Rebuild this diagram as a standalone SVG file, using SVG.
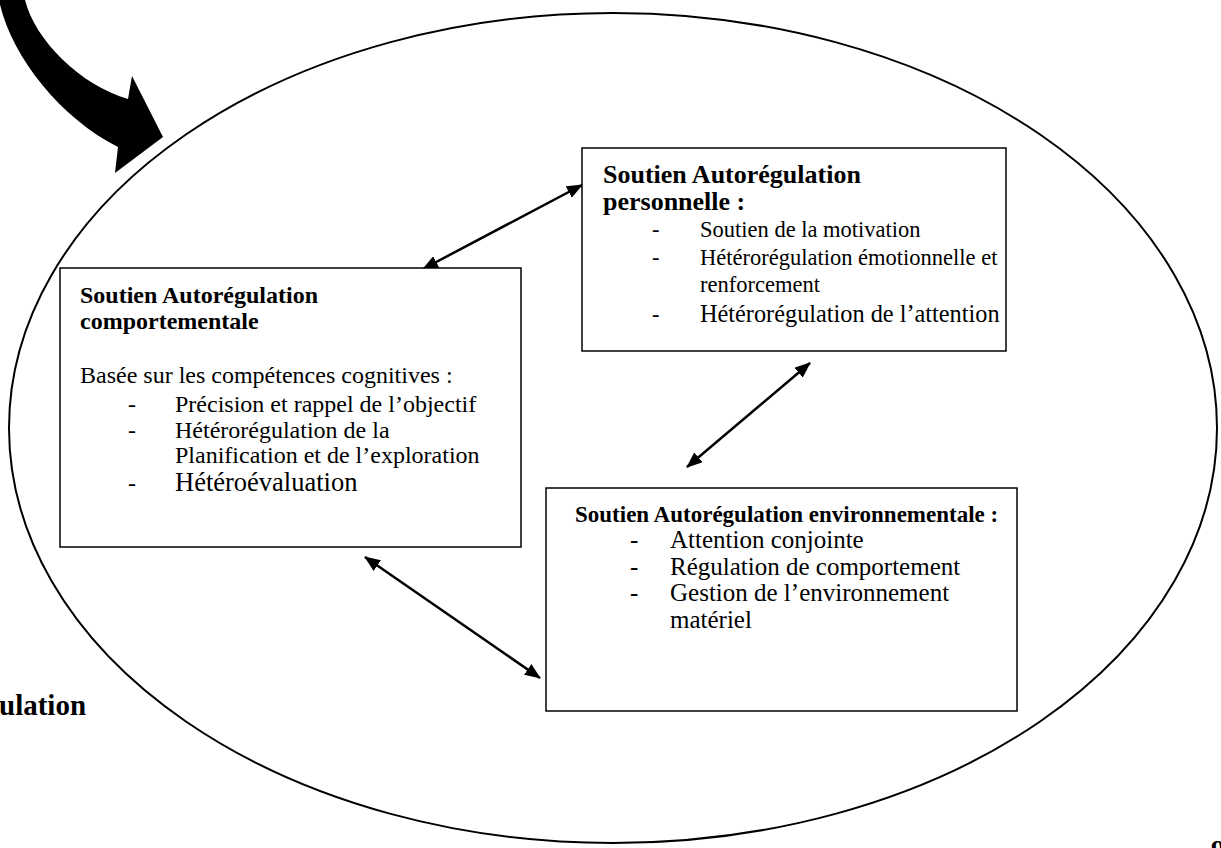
<svg xmlns="http://www.w3.org/2000/svg" width="1221" height="848" viewBox="0 0 1221 848">
<style>
.box{fill:#fff;stroke:#000;stroke-width:1.5}
.t{font-family:"Liberation Serif","Times New Roman",serif;fill:#000}
.b{font-weight:bold}
.conn{stroke:#000;stroke-width:2.5;fill:none}
</style>
<defs>
<marker id="ah" viewBox="0 0 16 13" refX="15" refY="6.5" markerWidth="16" markerHeight="13" markerUnits="userSpaceOnUse" orient="auto-start-reverse">
<path d="M0,0 L16,6.5 L0,13 z" fill="#000"/>
</marker>
</defs>
<rect width="1221" height="848" fill="#fff"/>
<g id="bigarrow">
<path d="M -1,0 L 25,0 C 35,40 80,85 128,99 L 132,76 L 163,137 L 115,173 L 118,147 C 60,118 10,55 -1,0 Z" fill="#000"/>
</g>
<g id="ellipse">
<ellipse cx="613" cy="428" rx="604" ry="415" fill="none" stroke="#000" stroke-width="2"/>
</g>
<g id="connectors">
<line class="conn" x1="423" y1="269" x2="582" y2="185" marker-start="url(#ah)" marker-end="url(#ah)"/>
<line class="conn" x1="810" y1="363" x2="687" y2="467" marker-start="url(#ah)" marker-end="url(#ah)"/>
<line class="conn" x1="365" y1="557" x2="540" y2="678" marker-start="url(#ah)" marker-end="url(#ah)"/>
</g>
<g id="node-personnelle">
<rect class="box" x="582" y="148" width="424" height="203"/>
<text class="t b" x="603" y="183" font-size="26">Soutien Autorégulation</text>
<text class="t b" x="603" y="210" font-size="26">personnelle :</text>
<text class="t" x="652" y="237" font-size="22.5">-</text>
<text class="t" x="700" y="237" font-size="22.5">Soutien de la motivation</text>
<text class="t" x="652" y="265" font-size="22.5">-</text>
<text class="t" x="700" y="265" font-size="22.5">Hétérorégulation émotionnelle et</text>
<text class="t" x="700" y="292" font-size="22.5">renforcement</text>
<text class="t" x="652" y="322" font-size="22.5">-</text>
<text class="t" x="700" y="322" font-size="24.3">Hétérorégulation de l’attention</text>
</g>
<g id="node-comportementale">
<rect class="box" x="60" y="268" width="461" height="279"/>
<text class="t b" x="80" y="303" font-size="24">Soutien Autorégulation</text>
<text class="t b" x="80" y="329" font-size="24">comportementale</text>
<text class="t" x="80" y="383" font-size="24">Basée sur les compétences cognitives :</text>
<text class="t" x="128" y="412" font-size="24">-</text>
<text class="t" x="175" y="412" font-size="24">Précision et rappel de l’objectif</text>
<text class="t" x="128" y="438" font-size="24">-</text>
<text class="t" x="175" y="438" font-size="24">Hétérorégulation de la</text>
<text class="t" x="175" y="463" font-size="24">Planification et de l’exploration</text>
<text class="t" x="128" y="491" font-size="24">-</text>
<text class="t" x="175" y="491" font-size="26.5">Hétéroévaluation</text>
</g>
<g id="node-environnementale">
<rect class="box" x="546" y="488" width="471" height="223"/>
<text class="t b" x="575" y="522" font-size="23">Soutien Autorégulation environnementale :</text>
<text class="t" x="630" y="548" font-size="25">-</text>
<text class="t" x="670" y="548" font-size="25">Attention conjointe</text>
<text class="t" x="630" y="575" font-size="25">-</text>
<text class="t" x="670" y="575" font-size="25">Régulation de comportement</text>
<text class="t" x="630" y="601" font-size="25">-</text>
<text class="t" x="670" y="601" font-size="25">Gestion de l’environnement</text>
<text class="t" x="670" y="628" font-size="25">matériel</text>
</g>
<g id="fragments">
<text class="t b" x="-1" y="715" font-size="29">ulation</text>
<text class="t b" x="1211" y="859" font-size="28">9</text>
</g>
</svg>
